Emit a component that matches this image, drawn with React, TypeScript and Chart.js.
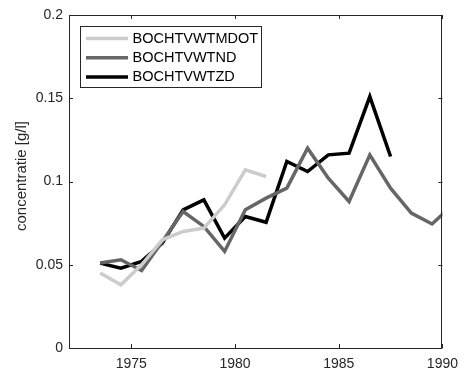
import React, { useEffect, useRef } from "react";
import { Chart, registerables } from "chart.js";

Chart.register(...registerables);

const years = [1973.5, 1974.5, 1975.5, 1976.5, 1977.5, 1978.5, 1979.5, 1980.5, 1981.5, 1982.5, 1983.5, 1984.5, 1985.5, 1986.5, 1987.5, 1988.5, 1989.5, 1990.5];
const mdotValues = [0.045, 0.038, 0.05, 0.065, 0.07, 0.072, 0.086, 0.107, 0.103];
const ndValues = [0.051, 0.053, 0.0465, 0.064, 0.082, 0.073, 0.058, 0.083, 0.09, 0.096, 0.12, 0.102, 0.088, 0.116, 0.096, 0.081, 0.0745, 0.086];
const zdValues = [0.051, 0.048, 0.052, 0.063, 0.083, 0.089, 0.066, 0.079, 0.0755, 0.112, 0.106, 0.116, 0.117, 0.151, 0.115];
const seriesNames = ["BOCHTVWTMDOT", "BOCHTVWTND", "BOCHTVWTZD"];
const seriesColors = ["#cccccc", "#666666", "#000000"];
const xTickValues = [1975, 1980, 1985, 1990];
const yTickValues = [0, 0.05, 0.1, 0.15, 0.2];
const yTickLabels = ["0", "0.05", "0.1", "0.15", "0.2"];
const yTitle = "concentratie [g/l]";

const FONT = "'Liberation Sans', Arial, Helvetica, sans-serif";
const AXIS = "#262626";

const toPoints = (vals: number[]) => vals.map((v, i) => ({ x: years[i], y: v }));

const decorPlugin = {
  id: "decor",
  afterDraw(chart: any) {
    const { ctx, chartArea: a, scales } = chart;
    const xs = scales.x;
    const ys = scales.y;
    ctx.save();
    ctx.strokeStyle = AXIS;
    ctx.lineWidth = 1;
    ctx.strokeRect(Math.round(a.left) + 0.5, Math.round(a.top) + 0.5, Math.round(a.right - a.left) - 1, Math.round(a.bottom - a.top));
    const tl = 4;
    ctx.beginPath();
    xTickValues.forEach((v) => {
      const px = Math.round(xs.getPixelForValue(v)) + 0.5;
      ctx.moveTo(px, a.bottom);
      ctx.lineTo(px, a.bottom - tl);
      ctx.moveTo(px, a.top);
      ctx.lineTo(px, a.top + tl);
    });
    yTickValues.forEach((v) => {
      const py = Math.round(ys.getPixelForValue(v)) + 0.5;
      ctx.moveTo(a.left, py);
      ctx.lineTo(a.left + tl, py);
      ctx.moveTo(a.right, py);
      ctx.lineTo(a.right - tl, py);
    });
    ctx.stroke();

    ctx.fillStyle = AXIS;
    ctx.font = `15px ${FONT}`;
    ctx.textAlign = "center";
    ctx.textBaseline = "middle";
    ctx.translate(22, 176);
    ctx.rotate(-Math.PI / 2);
    ctx.fillText(yTitle, 0, 0);
    ctx.restore();

    ctx.save();
    const lx = 80.5, ly = 26.5, lw = 181, lh = 61;
    ctx.fillStyle = "#ffffff";
    ctx.fillRect(lx, ly, lw, lh);
    ctx.strokeStyle = AXIS;
    ctx.lineWidth = 1;
    ctx.strokeRect(lx, ly, lw, lh);
    ctx.font = `14.5px ${FONT}`;
    ctx.textAlign = "left";
    ctx.textBaseline = "middle";
    chart.data.datasets.forEach((ds: any, i: number) => {
      const y = 38.5 + i * 19.2;
      ctx.strokeStyle = ds.borderColor;
      ctx.lineWidth = 3.5;
      ctx.beginPath();
      ctx.moveTo(86, y);
      ctx.lineTo(128, y);
      ctx.stroke();
      ctx.fillStyle = "#000000";
      ctx.fillText(ds.label, 132.5, y + 0.5);
    });
    ctx.restore();
  },
};

export default function App() {
  const ref = useRef<HTMLCanvasElement | null>(null);
  useEffect(() => {
    if (!ref.current) return;
    const chart = new Chart(ref.current, {
      type: "line",
      data: {
        datasets: [mdotValues, ndValues, zdValues].map((vals, i) => ({
          label: seriesNames[i],
          data: toPoints(vals),
          borderColor: seriesColors[i],
          backgroundColor: seriesColors[i],
          borderWidth: 3.5,
          pointRadius: 0,
          fill: false,
          tension: 0,
          borderJoinStyle: "miter" as const,
        })),
      },
      options: {
        responsive: false,
        animation: false,
        layout: { padding: { left: 0, right: 16, top: 15, bottom: 0 } },
        plugins: { legend: { display: false }, tooltip: { enabled: false } },
        scales: {
          x: {
            type: "linear",
            min: 1972,
            max: 1990,
            grid: { display: false, drawTicks: false },
            border: { display: false },
            afterBuildTicks: (s: any) => {
              s.ticks = xTickValues.map((v) => ({ value: v }));
            },
            afterFit: (s: any) => {
              s.height = 22;
            },
            ticks: {
              color: AXIS,
              padding: 8,
              maxRotation: 0,
              font: { family: FONT, size: 14 },
              callback: (v: any) => String(v),
            },
          },
          y: {
            type: "linear",
            min: 0,
            max: 0.2,
            grid: { display: false, drawTicks: false },
            border: { display: false },
            afterBuildTicks: (s: any) => {
              s.ticks = yTickValues.map((v) => ({ value: v }));
            },
            afterFit: (s: any) => {
              s.width = 69;
            },
            ticks: {
              color: AXIS,
              padding: 6,
              font: { family: FONT, size: 14 },
              callback: (v: any) => {
                const idx = yTickValues.findIndex((t) => Math.abs(t - v) < 1e-9);
                return idx >= 0 ? yTickLabels[idx] : "";
              },
            },
          },
        },
      },
      plugins: [decorPlugin],
    });
    return () => chart.destroy();
  }, []);
  return (
    <div style={{ position: "fixed", left: 0, top: 0, width: 466, height: 370, background: "#fff" }}>
      <canvas ref={ref} width={466} height={370} style={{ display: "block", width: 466, height: 370 }} />
    </div>
  );
}
